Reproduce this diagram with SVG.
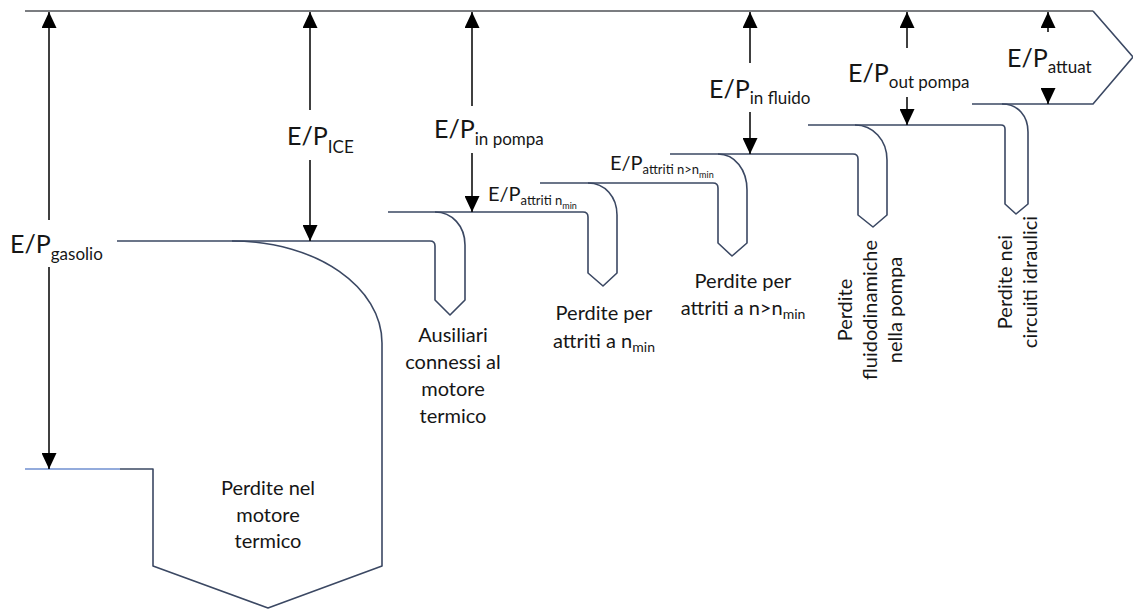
<svg xmlns="http://www.w3.org/2000/svg" width="1133" height="610" viewBox="0 0 1133 610">
<defs>
<marker id="ah" markerWidth="16" markerHeight="15" refX="16" refY="7.5" orient="auto" markerUnits="userSpaceOnUse">
<path d="M0,0 L16,7.5 L0,15 z" fill="#000"/>
</marker>
<style>
.flow{fill:none;stroke:#3b4863;stroke-width:1.6;stroke-linejoin:round}
.top{fill:none;stroke:#4f5257;stroke-width:1.6}
.dim{stroke:#000;stroke-width:1.5;marker-end:url(#ah)}
text{font-family:Lato,"Liberation Sans",sans-serif;fill:#161616}
.big{font-size:25px}
.sub{font-size:17px}
.med{font-size:20px}
.msub{font-size:13px}
.mss{font-size:9px}
.lbl{font-size:20px;text-anchor:middle}
.lsub{font-size:14px}
</style>
</defs>
<g id="flows">
<path class="top" d="M25,11 H1093"/>
<path id="output" class="flow" d="M1002,104 H1093 L1133,57 L1093,11"/>
<path class="flow" d="M25,469 H120" style="stroke:#6f8fd0"/>
</g>
<g id="n-motore">
<path class="flow" d="M120,469 H153 V566 L268,608 L382,566 V343 C382,288 318,241 232,241 H117"/>
<text class="lbl"><tspan x="268" y="495">Perdite nel</tspan><tspan x="268" y="522">motore</tspan><tspan x="268" y="548">termico</tspan></text>
</g>
<g id="n-ausiliari">
<path class="flow" d="M232,241 H430 Q435,241 435,246 V300 L450,315 L465,300 V245 C465,226 452,212 435,212 H388"/>
<text class="lbl"><tspan x="453" y="342">Ausiliari</tspan><tspan x="453" y="369">connessi al</tspan><tspan x="453" y="396">motore</tspan><tspan x="453" y="423">termico</tspan></text>
</g>
<g id="n-attriti-min">
<path class="flow" d="M435,212 H583 Q588,212 588,217 V273 L603,286 L617,273 V215 C617,197 605,183 588,183 H540"/>
<text class="lbl"><tspan x="604" y="320">Perdite per</tspan><tspan x="604" y="348">attriti a n<tspan class="lsub" dy="4">min</tspan></tspan></text>
</g>
<g id="n-attriti-max">
<path class="flow" d="M588,183 H713 Q718,183 718,188 V243 L732,256 L747,243 V190 C747,170 735,154 718,154 H670"/>
<text class="lbl"><tspan x="743" y="288">Perdite per</tspan><tspan x="743" y="315">attriti a n&gt;n<tspan class="lsub" dy="4">min</tspan></tspan></text>
</g>
<g id="n-fluido">
<path class="flow" d="M718,154 H853 Q858,154 858,159 V215 L873,227 L887,215 V160 C887,140 873,125 855,125 H808"/>
<text class="lbl" transform="translate(852,310) rotate(-90)"><tspan x="0" y="0">Perdite</tspan><tspan x="0" y="25">fluidodinamiche</tspan><tspan x="0" y="50">nella pompa</tspan></text>
</g>
<g id="n-circuiti">
<path class="flow" d="M855,125 H1001 Q1005,125 1005,129 V204 L1016,214 L1028,204 V132 C1028,116 1018,104 1002,104 H972"/>
<text class="lbl" transform="translate(1012,282) rotate(-90)"><tspan x="0" y="0">Perdite nei</tspan><tspan x="0" y="25">circuiti idraulici</tspan></text>
</g>
<g id="connectors">
<line class="dim" x1="49" y1="220" x2="49" y2="12"/>
<line class="dim" x1="49" y1="267" x2="49" y2="469"/>
<line class="dim" x1="310" y1="110" x2="310" y2="12"/>
<line class="dim" x1="310" y1="160" x2="310" y2="241"/>
<line class="dim" x1="472" y1="106" x2="472" y2="12"/>
<line class="dim" x1="472" y1="153" x2="472" y2="212"/>
<line class="dim" x1="750" y1="63" x2="750" y2="12"/>
<line class="dim" x1="750" y1="112" x2="750" y2="154"/>
<line class="dim" x1="907" y1="48" x2="907" y2="12"/>
<line class="dim" x1="907" y1="97" x2="907" y2="125"/>
<line class="dim" x1="1048" y1="32" x2="1048" y2="12"/>
<line class="dim" x1="1048" y1="88" x2="1048" y2="104"/>
</g>
<g id="labels">
<text class="big" x="10" y="253">E/P<tspan class="sub" dy="7">gasolio</tspan></text>
<text class="big" x="287" y="145">E/P<tspan class="sub" dy="8">ICE</tspan></text>
<text class="big" x="434" y="138">E/P<tspan class="sub" dy="7">in pompa</tspan></text>
<text class="big" x="709" y="98">E/P<tspan class="sub" dy="6">in fluido</tspan></text>
<text class="big" x="848" y="82">E/P<tspan class="sub" dy="6">out pompa</tspan></text>
<text class="big" x="1007" y="67">E/P<tspan class="sub" dy="6">attuat</tspan></text>
<text class="med" x="488" y="201">E/P<tspan class="msub" dy="4">attriti n</tspan><tspan class="mss" dy="4">min</tspan></text>
<text class="med" x="610" y="170">E/P<tspan class="msub" dy="4">attriti n&gt;n</tspan><tspan class="mss" dy="4">min</tspan></text>
</g>
</svg>
